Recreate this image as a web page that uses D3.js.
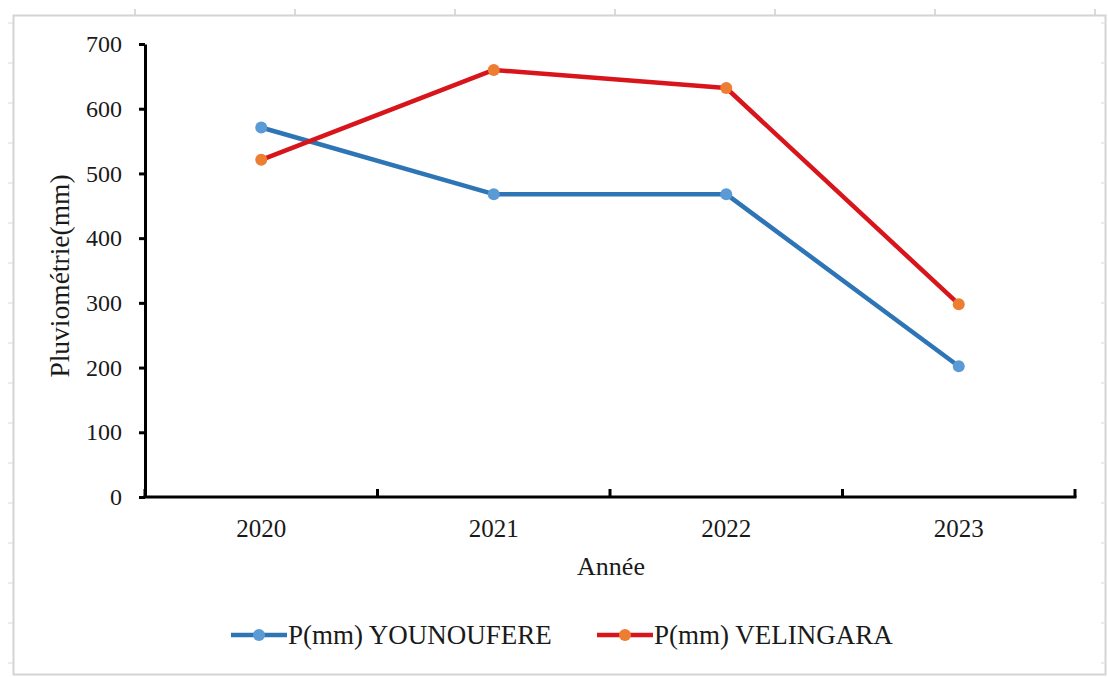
<!DOCTYPE html>
<html>
<head>
<meta charset="utf-8">
<script src="https://cdn.jsdelivr.net/npm/d3@7"></script>
<style>
  html, body { margin: 0; padding: 0; background: #fff; }
  svg { display: block; }
  svg text { font-family: "Liberation Serif", "Times New Roman", serif; fill: #1a1a1a; }
</style>
</head>
<body>
<svg id="chart" width="1108" height="677"></svg>
<script>
// ---- data ----
const years = ["2020", "2021", "2022", "2023"];
const younoufere = [571, 468, 468, 202];
const velingara = [521, 660, 632, 298];
const seriesNames = ["P(mm) YOUNOUFERE", "P(mm) VELINGARA"];
const yTicks = [0, 100, 200, 300, 400, 500, 600, 700];
const xTitle = "Année";
const yTitle = "Pluviométrie(mm)";

const FONT = "Liberation Serif, Times New Roman, serif";
const lineColors = ["#2e75b6", "#d9151c"];
const markerColors = ["#5b9bd5", "#ed7d31"];

const svg = d3.select("#chart");

// faint outer frame (sheet border)
const frame = svg.append("g");
frame.append("rect").attr("x", 13.5).attr("y", 15.5).attr("width", 1092).attr("height", 659)
  .attr("fill", "none").attr("stroke", "#d4d4d4").attr("stroke-width", 2);
d3.range(135, 1100, 160).forEach(px => {
  frame.append("line").attr("x1", px).attr("x2", px).attr("y1", 9).attr("y2", 15)
    .attr("stroke", "#cfcfcf").attr("stroke-width", 1.5);
});
d3.range(23, 670, 40).forEach(py => {
  frame.append("line").attr("x1", 8).attr("x2", 13).attr("y1", py).attr("y2", py)
    .attr("stroke", "#e0e0e0").attr("stroke-width", 1.2);
  frame.append("line").attr("x1", 1101).attr("x2", 1106).attr("y1", py).attr("y2", py)
    .attr("stroke", "#e0e0e0").attr("stroke-width", 1.2);
});

// scales
const x = d3.scaleBand().domain(years).range([145, 1075]).padding(0);
const y = d3.scaleLinear().domain([0, 700]).range([497, 44]);
const cx = d => x(d) + x.bandwidth() / 2;

// y axis
const yAxis = svg.append("g").attr("transform", "translate(145,0)")
  .call(d3.axisLeft(y).tickValues(yTicks).tickSize(6).tickSizeOuter(0).tickPadding(17));
yAxis.select(".domain").attr("stroke", "#000").attr("stroke-width", 3);
yAxis.selectAll(".tick line").attr("stroke", "#000").attr("stroke-width", 3);
yAxis.selectAll(".tick text").attr("font-size", 24).attr("font-family", FONT).attr("fill", "#1a1a1a");

// x axis
const xAxis = svg.append("g").attr("transform", "translate(0,497)")
  .call(d3.axisBottom(x).tickSize(0).tickSizeOuter(0).tickPadding(22));
xAxis.select(".domain").attr("stroke", "#000").attr("stroke-width", 3).attr("d", "M143.5,0H1076.5");
xAxis.selectAll(".tick text").attr("font-size", 25).attr("font-family", FONT).attr("fill", "#1a1a1a");
// inside tick marks at category boundaries
d3.range(0, years.length + 1).forEach(i => {
  const px = x.range()[0] + i * x.step();
  xAxis.append("line").attr("x1", px).attr("x2", px).attr("y1", 0).attr("y2", -8)
    .attr("stroke", "#000").attr("stroke-width", 3);
});

// axis titles
svg.append("text").attr("x", 611).attr("y", 575).attr("text-anchor", "middle")
  .attr("font-family", FONT).attr("font-size", 26).text(xTitle);
svg.append("text").attr("transform", "translate(69,276) rotate(-90)").attr("text-anchor", "middle")
  .attr("font-family", FONT).attr("font-size", 27.5).text(yTitle);

// lines
const line = d3.line().x((d, i) => cx(years[i])).y(d => y(d));
[younoufere, velingara].forEach((vals, s) => {
  svg.append("path").datum(vals).attr("d", line).attr("fill", "none")
    .attr("stroke", lineColors[s]).attr("stroke-width", 4.5).attr("stroke-linejoin", "round");
  svg.selectAll(null).data(vals).enter().append("circle")
    .attr("cx", (d, i) => cx(years[i])).attr("cy", d => y(d)).attr("r", 6)
    .attr("fill", markerColors[s]);
});

// legend
const legendItems = [
  { x1: 231, x2: 287, tx: 288 },
  { x1: 597, x2: 653, tx: 654 }
];
legendItems.forEach((it, s) => {
  const g = svg.append("g");
  g.append("line").attr("x1", it.x1).attr("x2", it.x2).attr("y1", 635).attr("y2", 635)
    .attr("stroke", lineColors[s]).attr("stroke-width", 4.5);
  g.append("circle").attr("cx", (it.x1 + it.x2) / 2).attr("cy", 635).attr("r", 6)
    .attr("fill", markerColors[s]);
  g.append("text").attr("x", it.tx).attr("y", 644).attr("font-family", FONT)
    .attr("font-size", 27).text(seriesNames[s]);
});
</script>
</body>
</html>
